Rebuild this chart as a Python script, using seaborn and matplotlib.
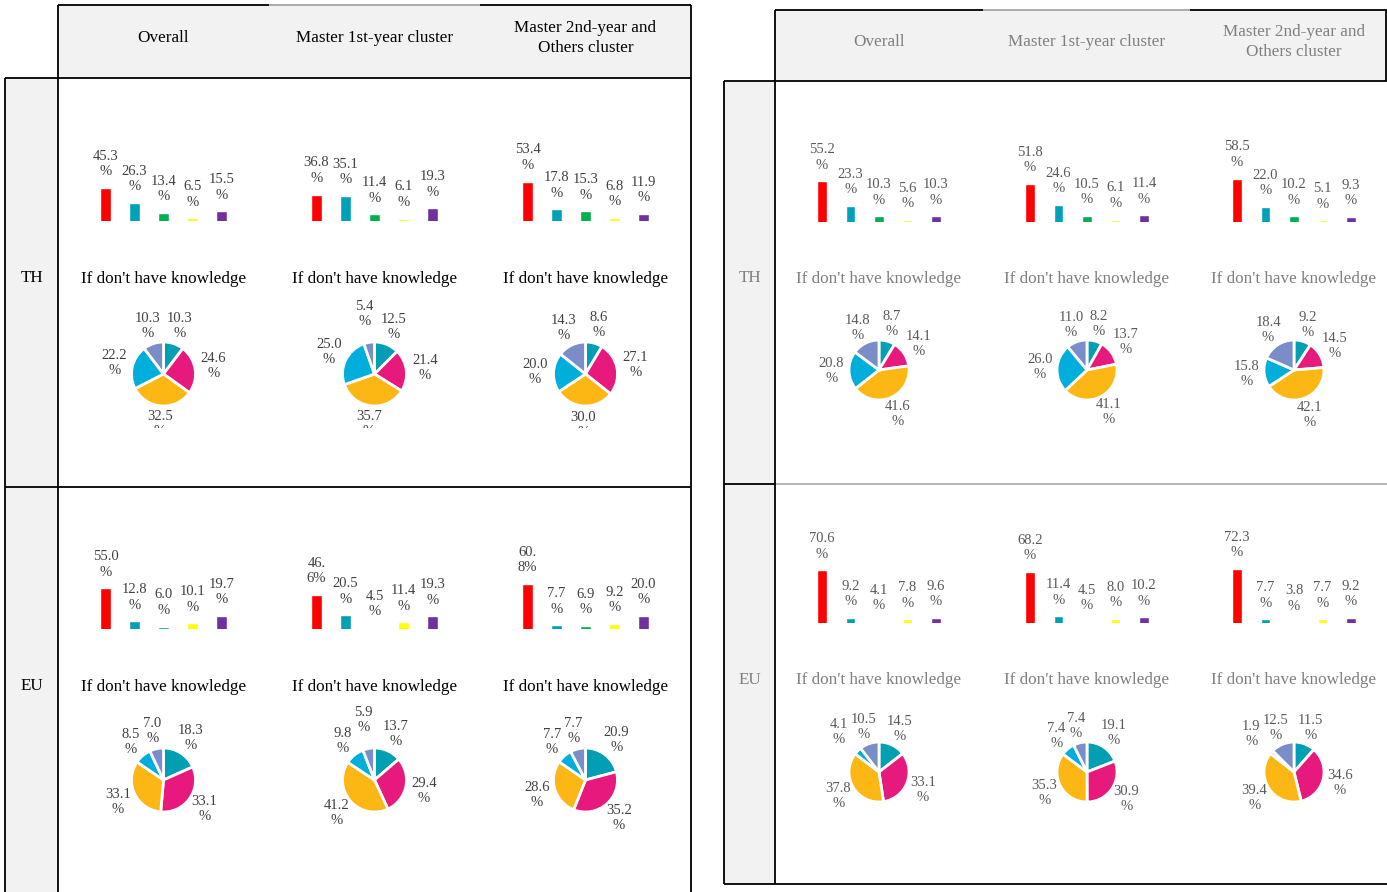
import matplotlib
matplotlib.use("Agg")
import matplotlib.pyplot as plt
import numpy as np
import pandas as pd
import seaborn as sns
from matplotlib.patches import Rectangle

# ---------------------------------------------------------------- data
col_titles = ["Overall", "Master 1st-year cluster", "Master 2nd-year and\nOthers cluster"]
row_titles = ["TH", "EU"]
pie_title = "If don't have knowledge"

answer_options = ["Option 1", "Option 2", "Option 3", "Option 4", "Option 5"]
pie_options = ["Slice 1", "Slice 2", "Slice 3", "Slice 4", "Slice 5"]

bar_colors = ["#FF0000", "#00A0B8", "#00B050", "#FFFF00", "#7030A0"]
pie_colors = ["#009FB3", "#E8197D", "#FDB714", "#00AEDB", "#7A8DC8"]

# left table
bars_th_left = [[45.3, 26.3, 13.4, 6.5, 15.5],
                [36.8, 35.1, 11.4, 6.1, 19.3],
                [53.4, 17.8, 15.3, 6.8, 11.9]]
bars_eu_left = [[55.0, 12.8, 6.0, 10.1, 19.7],
                [46.6, 20.5, 4.5, 11.4, 19.3],
                [60.8, 7.7, 6.9, 9.2, 20.0]]
pies_th_left = [[10.3, 24.6, 32.5, 22.2, 10.3],
                [12.5, 21.4, 35.7, 25.0, 5.4],
                [8.6, 27.1, 30.0, 20.0, 14.3]]
pies_eu_left = [[18.3, 33.1, 33.1, 8.5, 7.0],
                [13.7, 29.4, 41.2, 9.8, 5.9],
                [20.9, 35.2, 28.6, 7.7, 7.7]]

# right table
bars_th_right = [[55.2, 23.3, 10.3, 5.6, 10.3],
                 [51.8, 24.6, 10.5, 6.1, 11.4],
                 [58.5, 22.0, 10.2, 5.1, 9.3]]
bars_eu_right = [[70.6, 9.2, 4.1, 7.8, 9.6],
                 [68.2, 11.4, 4.5, 8.0, 10.2],
                 [72.3, 7.7, 3.8, 7.7, 9.2]]
pies_th_right = [[8.7, 14.1, 41.6, 20.8, 14.8],
                 [8.2, 13.7, 41.1, 26.0, 11.0],
                 [9.2, 14.5, 42.1, 15.8, 18.4]]
pies_eu_right = [[14.5, 33.1, 37.8, 4.1, 10.5],
                 [19.1, 30.9, 35.3, 7.4, 7.4],
                 [11.5, 34.6, 39.4, 1.9, 12.5]]

# bar labels whose line break falls inside the number
inner_break_left_eu = [False, True, True]

# ---------------------------------------------------------------- setup
sns.set_theme(style="white")
plt.rcParams["font.family"] = ["Liberation Serif", "DejaVu Serif"]

W, H = 1387, 892
fig = plt.figure(figsize=(W / 100, H / 100), dpi=100)
base = fig.add_axes([0, 0, 1, 1])
base.set_xlim(0, W)
base.set_ylim(H, 0)
base.axis("off")


def px_axes(x0, y0, x1, y1):
    """Axes from a pixel box measured from the top-left corner."""
    return fig.add_axes([x0 / W, 1 - y1 / H, (x1 - x0) / W, (y1 - y0) / H])


def hline(y, x0, x1, color="black", lw=1.3):
    base.plot([x0, x1], [y, y], color=color, lw=lw, solid_capstyle="butt")


def vline(x, y0, y1, color="black", lw=1.3):
    base.plot([x, x], [y0, y1], color=color, lw=lw, solid_capstyle="butt")


GRID_GREY = "#F2F2F2"
BAR_K = 0.78      # pixels per percentage point
BAR_MIN = 3.0     # value axis starts here
BAR_STEP = 29     # pixels between bar centres
BAR_AX_H = 125
LABEL_SIZE = 10.5
TITLE_SIZE = 12.3


def fmt_label(v, inner_break=False):
    s = f"{v:.1f}%"
    if inner_break:
        return s[:3] + "\n" + s[3:]
    return f"{v:.1f}\n%"


def draw_bars(cx, y_base, values, text_color, inner_break=False, step=BAR_STEP):
    ax = px_axes(cx - 2.5 * step, y_base - BAR_AX_H, cx + 2.5 * step, y_base)
    df = pd.DataFrame({"option": answer_options, "share": values})
    sns.barplot(data=df, x="option", y="share", hue="option",
                palette=dict(zip(answer_options, bar_colors)),
                width=0.35, saturation=1, legend=False, ax=ax)
    ax.set_ylim(BAR_MIN, BAR_MIN + BAR_AX_H / BAR_K)
    ax.set_xlim(-0.5, 4.5)
    ax.axis("off")
    ax.patch.set_alpha(0)
    for i, v in enumerate(values):
        ax.annotate(fmt_label(v, inner_break and i == 0), xy=(i, v),
                    xytext=(0, 7), textcoords="offset points",
                    ha="center", va="bottom", fontsize=LABEL_SIZE,
                    color=text_color, linespacing=1.25, annotation_clip=False)


def draw_pie(cx, cy, r, box, values, text_color, clip=False):
    x0, y0, x1, y1 = box
    ax = px_axes(x0, y0, x1, y1)
    labels = [f"{v:.1f}\n%" for v in values]
    wedges, texts = ax.pie(values, colors=pie_colors, startangle=90,
                           counterclock=False, labels=labels,
                           labeldistance=1.5,
                           wedgeprops=dict(edgecolor="white", linewidth=2.0),
                           textprops=dict(fontsize=LABEL_SIZE, color=text_color))
    ax.set_xlim((x0 - cx) / r, (x1 - cx) / r)
    ax.set_ylim((cy - y1) / r, (cy - y0) / r)
    ax.set_aspect("auto")
    ax.patch.set_alpha(0)
    for w, t, v in zip(wedges, texts, values):
        mid = np.deg2rad(0.5 * (w.theta1 + w.theta2))
        d = 1.58 if v >= 6 else 1.9
        t.set_position((d * np.cos(mid), d * np.sin(mid)))
        t.set_ha("center")
        t.set_va("center")
        t.set_linespacing(1.2)
        if clip:
            t.set_clip_on(True)
            t.set_clip_box(ax.bbox)


# ---------------------------------------------------------------- left table
L_COLS = [58, 269, 480, 691]
L_HEAD = (5, 78)
L_ROWS = [78, 487, 892]

base.add_patch(Rectangle((L_COLS[0], L_HEAD[0]), L_COLS[-1] - L_COLS[0],
                         L_HEAD[1] - L_HEAD[0], color=GRID_GREY, lw=0))
base.add_patch(Rectangle((5, L_ROWS[0]), L_COLS[0] - 5, L_ROWS[-1] - L_ROWS[0],
                         color=GRID_GREY, lw=0))
hline(L_HEAD[0], L_COLS[0], L_COLS[1])
hline(L_HEAD[0], L_COLS[1], L_COLS[2], color="#A6A6A6")
hline(L_HEAD[0], L_COLS[2], L_COLS[3])
hline(L_HEAD[1], 5, L_COLS[-1])
hline(L_ROWS[1], 5, L_COLS[-1])
vline(5, L_HEAD[1], H)
vline(L_COLS[0], L_HEAD[0], H)
vline(L_COLS[-1], L_HEAD[0], H)

for j, title in enumerate(col_titles):
    cx = 0.5 * (L_COLS[j] + L_COLS[j + 1])
    base.text(cx, 38, title, ha="center", va="center", fontsize=TITLE_SIZE,
              color="black", linespacing=1.3)
for i, title in enumerate(row_titles):
    base.text(32, [278, 686][i], title, ha="center", va="center",
              fontsize=TITLE_SIZE, color="black")

L_TEXT = "#404040"
for j in range(3):
    cx = 0.5 * (L_COLS[j] + L_COLS[j + 1])
    draw_bars(cx, 221, bars_th_left[j], L_TEXT)
    draw_bars(cx, 629, bars_eu_left[j], L_TEXT, inner_break=inner_break_left_eu[j])
    base.text(cx, 279, pie_title, ha="center", va="center", fontsize=TITLE_SIZE, color="black")
    base.text(cx, 687, pie_title, ha="center", va="center", fontsize=TITLE_SIZE, color="black")
    draw_pie(cx, 374, 32, (L_COLS[j] + 2, 300, L_COLS[j + 1] - 2, 428),
             pies_th_left[j], L_TEXT, clip=True)
    draw_pie(cx, 780, 32, (L_COLS[j] + 2, 705, L_COLS[j + 1] - 2, 880),
             pies_eu_left[j], L_TEXT)

# ---------------------------------------------------------------- right table
R_COLS = [775, 983, 1190, 1398]
R_HEAD = (10, 81)
R_ROWS = [81, 484, 884]
R_GREY = "#7F7F7F"
R_TEXT = "#595959"

base.add_patch(Rectangle((R_COLS[0], R_HEAD[0]), 1386 - R_COLS[0],
                         R_HEAD[1] - R_HEAD[0], color=GRID_GREY, lw=0))
base.add_patch(Rectangle((724, R_ROWS[0]), R_COLS[0] - 724, R_ROWS[-1] - R_ROWS[0],
                         color=GRID_GREY, lw=0))
hline(R_HEAD[0], R_COLS[0], R_COLS[1])
hline(R_HEAD[0], R_COLS[1], R_COLS[2], color="#A6A6A6")
hline(R_HEAD[0], R_COLS[2], 1387)
hline(R_HEAD[1], 724, 1387)
hline(R_ROWS[1], 724, R_COLS[0])
hline(R_ROWS[1], R_COLS[0], 1387, color="#B0B0B0")
hline(R_ROWS[-1], 724, 1387)
vline(724, R_HEAD[1], R_ROWS[-1])
vline(R_COLS[0], R_HEAD[0], R_ROWS[-1])
vline(1386, R_HEAD[0], R_HEAD[1])

for j, title in enumerate(col_titles):
    cx = R_COLS[j] + 104
    base.text(cx, 42, title, ha="center", va="center", fontsize=TITLE_SIZE,
              color=R_GREY, linespacing=1.3)
for i, title in enumerate(row_titles):
    base.text(750, [278, 680][i], title, ha="center", va="center",
              fontsize=TITLE_SIZE, color=R_GREY)

for j in range(3):
    cx = R_COLS[j] + 104
    draw_bars(cx, 222, bars_th_right[j], R_TEXT, step=28.5)
    draw_bars(cx, 623, bars_eu_right[j], R_TEXT, step=28.5)
    base.text(cx, 279, pie_title, ha="center", va="center", fontsize=TITLE_SIZE, color=R_GREY)
    base.text(cx, 680, pie_title, ha="center", va="center", fontsize=TITLE_SIZE, color=R_GREY)
    draw_pie(cx, 370, 30, (R_COLS[j] + 2, 300, R_COLS[j] + 206, 428),
             pies_th_right[j], R_TEXT, clip=True)
    draw_pie(cx, 772, 30, (R_COLS[j] + 2, 700, R_COLS[j] + 206, 870),
             pies_eu_right[j], R_TEXT)

fig.savefig("out.png", dpi=100)
